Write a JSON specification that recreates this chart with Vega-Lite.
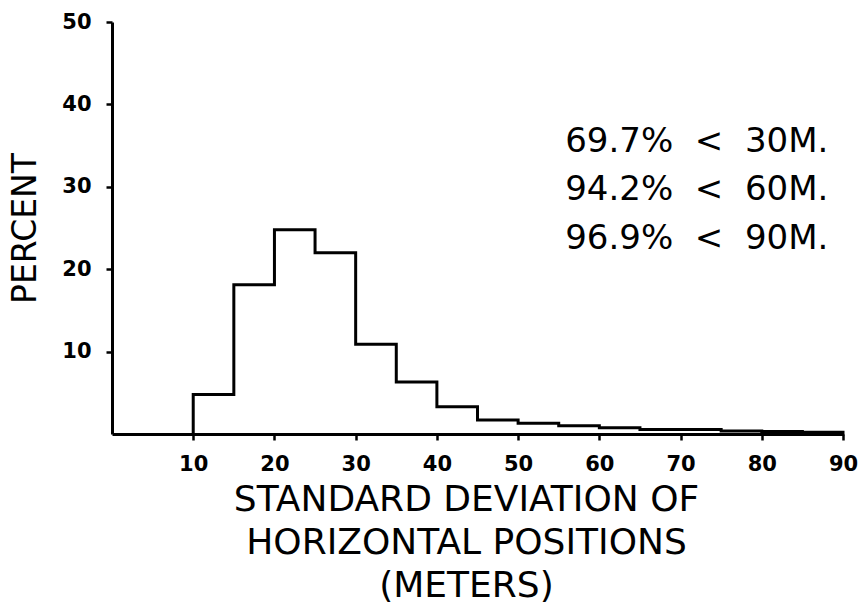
{
  "$schema": "https://vega.github.io/schema/vega-lite/v6.json",
  "width": 731,
  "height": 412,
  "autosize": {"type": "none"},
  "padding": {"left": 112, "top": 22, "right": 19, "bottom": 170},
  "background": "white",
  "config": {
    "view": {"stroke": null},
    "font": "DejaVu Sans",
    "axis": {"grid": false, "domainColor": "black", "tickColor": "black", "labelColor": "black", "titleColor": "black"}
  },
  "layer": [
    {
      "data": {
        "values": [
          {"sd": 10, "pct": 0},
          {"sd": 10, "pct": 4.8},
          {"sd": 15, "pct": 18.1},
          {"sd": 20, "pct": 24.8},
          {"sd": 25, "pct": 22.0},
          {"sd": 30, "pct": 10.9},
          {"sd": 35, "pct": 6.3},
          {"sd": 40, "pct": 3.3},
          {"sd": 45, "pct": 1.7},
          {"sd": 50, "pct": 1.3},
          {"sd": 55, "pct": 1.0},
          {"sd": 60, "pct": 0.75},
          {"sd": 65, "pct": 0.55},
          {"sd": 70, "pct": 0.55},
          {"sd": 75, "pct": 0.35},
          {"sd": 80, "pct": 0.3},
          {"sd": 85, "pct": 0.2},
          {"sd": 90, "pct": 0}
        ]
      },
      "mark": {"type": "line", "interpolate": "step-after", "color": "black", "strokeWidth": 3, "strokeJoin": "miter", "strokeCap": "square"},
      "encoding": {
        "order": {"value": null},
        "x": {
          "field": "sd", "type": "quantitative",
          "scale": {"domain": [0, 90], "nice": false, "zero": true},
          "axis": {
            "values": [10, 20, 30, 40, 50, 60, 70, 80, 90],
            "domainWidth": 3, "tickWidth": 2.5, "tickSize": 6,
            "labelFont": "DejaVu Sans", "labelFontWeight": "bold", "labelFontSize": 21, "labelPadding": 13,
            "labelFlush": false, "labelOverlap": false,
            "title": ["STANDARD DEVIATION OF", "HORIZONTAL POSITIONS", "(METERS)"],
            "titleFont": "DejaVu Sans", "titleFontWeight": "normal", "titleFontSize": 36,
            "titleLineHeight": 43, "titleX": 354, "titleY": 76, "titleAlign": "center", "titleBaseline": "alphabetic"
          }
        },
        "y": {
          "field": "pct", "type": "quantitative",
          "scale": {"domain": [0, 50], "nice": false},
          "axis": {
            "values": [10, 20, 30, 40, 50],
            "domainWidth": 3, "tickWidth": 2.5, "tickSize": 6,
            "labelFont": "DejaVu Sans", "labelFontWeight": "bold", "labelFontSize": 21, "labelPadding": 15,
            "labelFlush": false, "labelOverlap": false,
            "title": "PERCENT",
            "titleFont": "DejaVu Sans", "titleFontWeight": "normal", "titleFontSize": 33,
            "titleX": -77, "titleBaseline": "alphabetic", "titleAngle": 270
          }
        }
      }
    },
    {
      "data": {"values": [{"note": "summary"}]},
      "mark": {
        "type": "text",
        "text": ["69.7%\u00a0\u00a0<\u00a0\u00a030M.", "94.2%\u00a0\u00a0<\u00a0\u00a060M.", "96.9%\u00a0\u00a0<\u00a0\u00a090M."],
        "font": "DejaVu Sans", "fontSize": 34, "lineHeight": 48.3,
        "align": "left", "baseline": "alphabetic", "color": "black"
      },
      "encoding": {
        "x": {"datum": 55.8, "type": "quantitative"},
        "y": {"datum": 34.2, "type": "quantitative"}
      }
    }
  ]
}
